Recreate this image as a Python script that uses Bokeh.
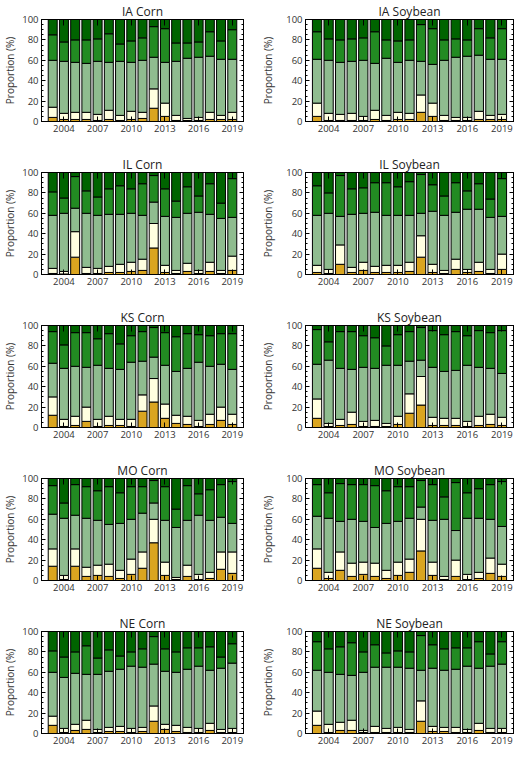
import numpy as np
from bokeh.plotting import figure
from bokeh.layouts import gridplot
from bokeh.models import FixedTicker, LinearAxis, Range1d, ColumnDataSource
from bokeh.embed import file_html
from bokeh.resources import INLINE

YEARS = list(range(2003, 2020))
XTICKS = [2004, 2007, 2010, 2013, 2016, 2019]
YTICKS = [0, 20, 40, 60, 80, 100]
CATEGORIES = ["Very poor", "Poor", "Fair", "Good", "Excellent"]
COLORS = ["#DAA520", "#FFFFE0", "#8FBC8F", "#228B22", "#006400"]

# Cumulative upper edges (%): very poor, +poor, +fair, +good
IA_CORN = [
    [4, 2, 2, 2, 1, 2, 1, 2, 3, 13, 5, 1, 1, 1, 2, 2, 2],
    [14, 8, 9, 9, 7, 11, 6, 10, 9, 32, 18, 6, 3, 4, 9, 6, 9],
    [60, 59, 58, 57, 59, 58, 59, 58, 60, 63, 58, 59, 62, 63, 64, 61, 61],
    [85, 78, 80, 80, 81, 86, 76, 79, 82, 93, 91, 77, 77, 78, 88, 79, 90],
]
IA_SOY = [
    [5, 1, 1, 1, 1, 2, 1, 2, 2, 9, 5, 1, 1, 1, 2, 2, 2],
    [18, 8, 7, 8, 5, 11, 6, 9, 8, 26, 18, 6, 4, 4, 10, 6, 7],
    [61, 60, 58, 59, 60, 57, 62, 58, 60, 59, 56, 60, 63, 64, 65, 61, 61],
    [88, 81, 80, 81, 82, 88, 80, 79, 80, 95, 91, 80, 81, 80, 91, 82, 91],
]
IL_CORN = [
    [1, 0.5, 17, 1, 1, 2, 2, 3, 4, 26, 2, 1, 3, 1, 3, 1, 4],
    [6, 3, 42, 7, 6, 8, 10, 12, 15, 50, 9, 4, 11, 4, 12, 4, 18],
    [58, 60, 65, 60, 58, 59, 59, 60, 58, 71, 57, 56, 60, 61, 59, 55, 56],
    [81, 75, 96, 82, 76, 84, 87, 84, 89, 97, 84, 72, 86, 77, 89, 70, 94],
]
IL_SOY = [
    [2, 1, 10, 2, 4, 2, 2, 2, 3, 17, 2, 1, 5, 2, 3, 1, 5],
    [9, 5, 29, 7, 12, 8, 9, 9, 12, 38, 10, 4, 15, 5, 12, 5, 20],
    [58, 60, 57, 59, 60, 61, 58, 58, 58, 60, 62, 58, 61, 64, 64, 56, 57],
    [87, 80, 97, 84, 85, 90, 90, 86, 91, 98, 88, 77, 90, 82, 89, 74, 94],
]
KS_CORN = [
    [12, 1, 2, 6, 1, 2, 2, 1, 16, 25, 9, 4, 3, 1, 3, 7, 3],
    [30, 8, 11, 20, 8, 11, 8, 8, 32, 48, 23, 12, 11, 7, 13, 20, 13],
    [63, 58, 60, 59, 61, 58, 57, 64, 65, 69, 61, 55, 58, 64, 60, 62, 57],
    [94, 81, 93, 93, 87, 92, 82, 90, 94, 98, 93, 89, 92, 91, 90, 92, 92],
]
KS_SOY = [
    [9, 1, 2, 3, 1, 1, 1, 3, 14, 22, 2, 2, 2, 1, 2, 3, 2],
    [28, 4, 8, 15, 6, 7, 4, 11, 33, 50, 10, 9, 9, 6, 11, 13, 10],
    [62, 66, 58, 57, 59, 58, 61, 61, 65, 66, 59, 55, 56, 61, 59, 58, 53],
    [96, 84, 94, 94, 90, 88, 80, 91, 94, 98, 95, 91, 94, 90, 95, 93, 95],
]
MO_CORN = [
    [14, 1, 14, 4, 5, 4, 2, 6, 12, 37, 5, 1, 4, 1, 2, 11, 7],
    [31, 5, 31, 13, 15, 16, 10, 21, 28, 60, 18, 3, 15, 6, 8, 28, 28],
    [65, 61, 64, 61, 59, 55, 56, 60, 66, 76, 59, 52, 59, 64, 59, 62, 56],
    [93, 76, 94, 92, 88, 92, 86, 92, 92, 98, 92, 70, 93, 85, 89, 94, 97],
]
MO_SOY = [
    [12, 2, 10, 4, 6, 4, 2, 5, 8, 29, 5, 1, 4, 1, 2, 7, 4],
    [31, 8, 28, 17, 18, 17, 10, 18, 21, 60, 18, 4, 20, 6, 8, 22, 16],
    [63, 61, 58, 60, 58, 52, 56, 58, 61, 72, 59, 60, 49, 61, 61, 60, 53],
    [94, 86, 95, 94, 94, 93, 88, 92, 92, 98, 94, 82, 96, 86, 90, 94, 97],
]
NE_CORN = [
    [8, 1, 3, 4, 1, 2, 2, 1, 2, 12, 4, 2, 1, 1, 3, 1, 1],
    [17, 5, 9, 13, 4, 6, 7, 5, 6, 27, 9, 8, 6, 5, 10, 4, 5],
    [60, 55, 59, 58, 58, 61, 63, 66, 65, 68, 61, 60, 63, 66, 62, 64, 69],
    [81, 75, 80, 86, 74, 82, 76, 80, 83, 95, 83, 80, 84, 84, 85, 75, 88],
]
NE_SOY = [
    [8, 1, 3, 3, 1, 1, 1, 1, 1, 12, 2, 2, 1, 1, 3, 1, 1],
    [22, 9, 11, 13, 3, 7, 5, 6, 4, 32, 7, 6, 6, 4, 10, 5, 5],
    [62, 60, 58, 57, 60, 65, 65, 65, 64, 62, 64, 62, 63, 66, 64, 66, 68],
    [90, 83, 85, 89, 80, 87, 79, 81, 80, 96, 87, 83, 84, 84, 90, 78, 90],
]

PANELS = [
    ("IA Corn", IA_CORN), ("IA Soybean", IA_SOY),
    ("IL Corn", IL_CORN), ("IL Soybean", IL_SOY),
    ("KS Corn", KS_CORN), ("KS Soybean", KS_SOY),
    ("MO Corn", MO_CORN), ("MO Soybean", MO_SOY),
    ("NE Corn", NE_CORN), ("NE Soybean", NE_SOY),
]

FONT = "Open Sans"
TXT = "#333333"


def style_axis(ax, ticker, labels=True):
    ax.ticker = ticker
    ax.major_tick_out = 0
    ax.minor_tick_out = 0
    ax.axis_line_color = "black"
    ax.major_tick_line_color = "black"
    ax.minor_tick_line_color = "black"
    if labels:
        ax.major_label_text_font = FONT
        ax.major_label_text_font_size = "9.5px"
        ax.major_label_text_color = TXT
        ax.major_label_standoff = 3
    else:
        ax.major_label_text_font_size = "1px"
        ax.major_label_text_color = None
        ax.major_label_standoff = 0


def make_panel(title, cum, col, last_row):
    left_b = 33 if col == 0 else 47
    right_b = 15 if col == 0 else 3
    top_b = 14
    frame_h = 107
    bottom_b = 18 if last_row else 32
    fig = figure(width=258, height=top_b + frame_h + bottom_b,
                 x_range=Range1d(2002, 2020), y_range=Range1d(0, 100),
                 output_backend="svg", toolbar_location=None, tools="",
                 min_border_left=left_b, min_border_right=right_b,
                 min_border_top=top_b, min_border_bottom=bottom_b,
                 title=title)
    c = np.array(cum, dtype=float)
    shares = [c[0], c[1] - c[0], c[2] - c[1], c[3] - c[2], 100 - c[3]]
    data = {"year": YEARS}
    for name, s in zip(CATEGORIES, shares):
        data[name] = list(s)
    src = ColumnDataSource(data)
    fig.vbar_stack(CATEGORIES, x="year", width=0.8, source=src,
                   fill_color=COLORS, line_color="black", line_width=1)

    xt = FixedTicker(ticks=XTICKS, minor_ticks=[])
    yt = FixedTicker(ticks=YTICKS, minor_ticks=list(range(0, 101, 5)))
    style_axis(fig.xaxis[0], xt)
    fig.xaxis[0].major_tick_in = 5
    style_axis(fig.yaxis[0], yt)
    fig.yaxis[0].major_tick_in = 4
    fig.yaxis[0].minor_tick_in = 2
    fig.yaxis[0].axis_label = "Proportion (%)"
    fig.yaxis[0].axis_label_text_font = FONT
    fig.yaxis[0].axis_label_text_font_size = "10px"
    fig.yaxis[0].axis_label_text_font_style = "normal"
    fig.yaxis[0].axis_label_text_color = TXT
    fig.yaxis[0].axis_label_standoff = 2 if col == 0 else 8

    top = LinearAxis()
    style_axis(top, FixedTicker(ticks=XTICKS, minor_ticks=[]), labels=False)
    top.major_tick_in = 6
    fig.add_layout(top, "above")
    right = LinearAxis()
    style_axis(right, FixedTicker(ticks=YTICKS, minor_ticks=list(range(0, 101, 5))), labels=False)
    right.major_tick_in = 4
    right.minor_tick_in = 2
    fig.add_layout(right, "right")

    fig.xgrid.visible = False
    fig.ygrid.visible = False
    fig.outline_line_color = "black"
    fig.background_fill_color = "white"
    fig.border_fill_color = "white"

    fig.title.align = "center"
    fig.title.text_font = FONT
    fig.title.text_font_size = "12px"
    fig.title.text_font_style = "normal"
    fig.title.text_color = "#222222"
    fig.title.standoff = 0
    fig.title.offset = 0
    return fig


rows = []
for r in range(5):
    row = []
    for c in range(2):
        title, cum = PANELS[2 * r + c]
        row.append(make_panel(title, cum, c, r == 4))
    rows.append(row)

grid = gridplot(rows, toolbar_location=None)
open("out.html", "w").write(file_html(grid, INLINE))
